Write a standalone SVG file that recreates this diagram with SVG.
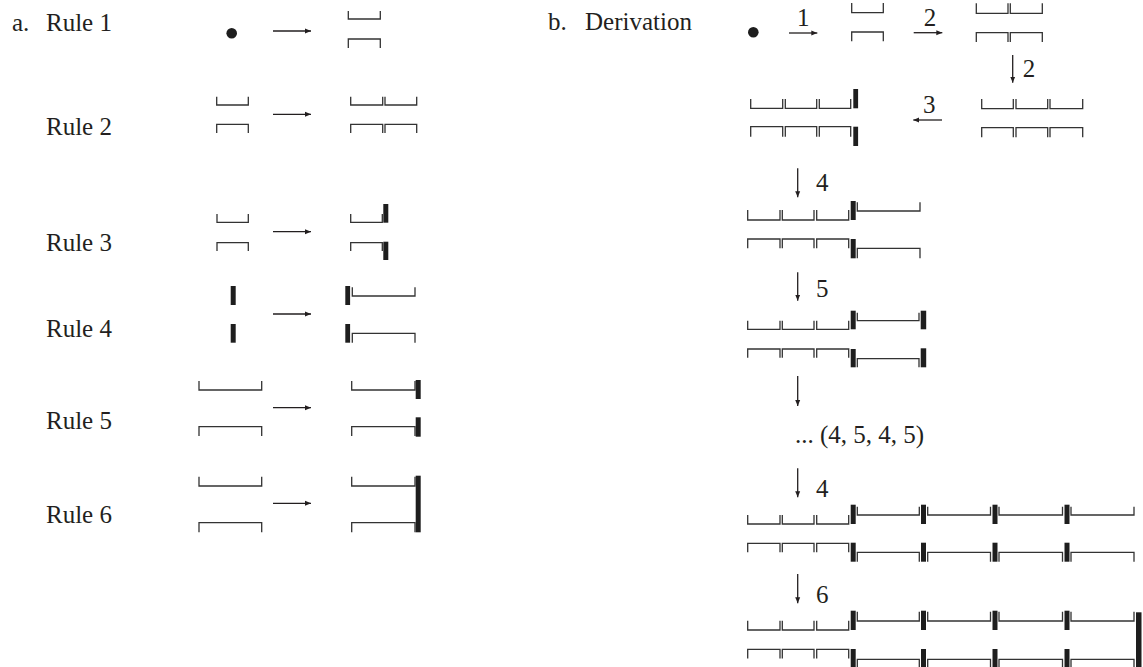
<svg xmlns="http://www.w3.org/2000/svg" width="1143" height="667" viewBox="0 0 1143 667">
<style>
text{font-family:"Liberation Serif","Times New Roman",serif;font-size:25px;fill:#231f20}
.b{fill:none;stroke:#333;stroke-width:1.3}
.bar{fill:#1e1e1e}
.a{stroke:#231f20;stroke-width:1.3;fill:none;marker-end:url(#ah)}
.m{text-anchor:middle}
</style>
<defs>
<marker id="ah" markerUnits="userSpaceOnUse" markerWidth="8" markerHeight="6" refX="6" refY="3" orient="auto">
<path d="M0,0.5 L6,3 L0,5.5 z" fill="#231f20"/>
</marker>
</defs>
<rect width="1143" height="667" fill="#fff"/>

<g id="labels-a">
<text x="12" y="31">a.</text>
<text x="46" y="31">Rule 1</text>
<text x="46" y="135">Rule 2</text>
<text x="46" y="251">Rule 3</text>
<text x="46" y="337">Rule 4</text>
<text x="46" y="429">Rule 5</text>
<text x="46" y="523">Rule 6</text>
</g>

<g id="r1-left"><circle cx="231.7" cy="33.3" r="5.3" fill="#1e1e1e"/></g>
<g id="r1-right">
<path class="b" d="M348.3 11 V19 H380.3 V11"/>
<path class="b" d="M348.3 48 V39 H380.3 V48"/>
</g>

<g id="r2-left">
<path class="b" d="M216.7 96.7 V105 H248.3 V96.7"/>
<path class="b" d="M216.7 133 V124.3 H248.3 V133"/>
</g>
<g id="r2-right">
<path class="b" d="M350.7 96.7 V105 H382.7 V96.7 M385 96.7 V105 H416.7 V96.7"/>
<path class="b" d="M350.7 133 V124.3 H382.7 V133 M385 133 V124.3 H416.7 V133"/>
</g>

<g id="r3-left">
<path class="b" d="M217 214 V222.3 H248.3 V214"/>
<path class="b" d="M217 251 V242.7 H248.3 V251"/>
</g>
<g id="r3-right">
<path class="b" d="M350.7 214 V222.3 H382.3 V214"/>
<rect class="bar" x="383.3" y="204" width="5" height="18.7"/>
<path class="b" d="M350.7 251 V242.7 H382.3 V251"/>
<rect class="bar" x="383.3" y="241.7" width="5" height="18.3"/>
</g>

<g id="r4-left">
<rect class="bar" x="230.7" y="286" width="5" height="19"/>
<rect class="bar" x="230.7" y="324" width="5" height="18.7"/>
</g>
<g id="r4-right">
<rect class="bar" x="345.3" y="286" width="4.8" height="19"/>
<path class="b" d="M352.3 287.3 V296 H415 V287.3"/>
<rect class="bar" x="345.3" y="324" width="4.8" height="18.7"/>
<path class="b" d="M352.3 342.7 V333.3 H415 V342.7"/>
</g>

<g id="r5-left">
<path class="b" d="M199 381 V390 H261.7 V381"/>
<path class="b" d="M199 436 V426.7 H261.7 V436"/>
</g>
<g id="r5-right">
<path class="b" d="M351.7 381 V390 H415 V381"/>
<rect class="bar" x="415.7" y="380" width="5" height="19"/>
<path class="b" d="M351.7 436 V426.7 H415 V436"/>
<rect class="bar" x="415.7" y="417.3" width="5" height="19.4"/>
</g>

<g id="r6-left">
<path class="b" d="M199 476.7 V486 H261.7 V476.7"/>
<path class="b" d="M199 532.3 V522.7 H261.7 V532.3"/>
</g>
<g id="r6-right">
<path class="b" d="M351.7 476.7 V486 H415 V476.7"/>
<path class="b" d="M351.7 532.3 V522.7 H415 V532.3"/>
<rect class="bar" x="415.7" y="475.7" width="5" height="56.6"/>
</g>

<g id="labels-b">
<text x="548" y="30">b.</text>
<text x="585" y="30">Derivation</text>
</g>

<g id="d0"><circle cx="753.3" cy="32.3" r="5.3" fill="#1e1e1e"/></g>
<g id="d1">
<path class="b" d="M851.7 3 V12.7 H883.3 V3"/>
<path class="b" d="M851.7 41.3 V32 H883.3 V41.3"/>
</g>
<g id="d2">
<path class="b" d="M976.3 3.3 V13.3 H1008 V3.3 M1010.3 3.3 V13.3 H1042.3 V3.3"/>
<path class="b" d="M976.3 42 V32.7 H1008 V42 M1010.3 42 V32.7 H1042.3 V42"/>
</g>
<g id="d3">
<path class="b" d="M981.7 99 V108.7 H1013.3 V99 M1016 99 V108.7 H1047.7 V99 M1050 99 V108.7 H1082.7 V99"/>
<path class="b" d="M981.7 137.3 V127.7 H1013.3 V137.3 M1016 137.3 V127.7 H1047.7 V137.3 M1050 137.3 V127.7 H1082.7 V137.3"/>
</g>
<g id="d4">
<path class="b" d="M750.7 99 V108.3 H782.7 V99 M785.3 99 V108.3 H816.7 V99 M819.3 99 V108.3 H850.7 V99"/>
<rect class="bar" x="853.3" y="89" width="4.8" height="19.3"/>
<path class="b" d="M750.7 136.7 V126.7 H782.7 V136.7 M785.3 136.7 V126.7 H816.7 V136.7 M819.3 136.7 V126.7 H850.7 V136.7"/>
<rect class="bar" x="853.3" y="126.7" width="4.8" height="19.3"/>
</g>
<g id="d5">
<path class="b" d="M747.7 210 V220 H780 V210 M782.3 210 V220 H814 V210 M816.7 210 V220 H848.7 V210"/>
<rect class="bar" x="850.7" y="201" width="5" height="19"/>
<path class="b" d="M857.3 202.3 V211 H920 V202.3"/>
<path class="b" d="M747.7 248.3 V239 H780 V248.3 M782.3 248.3 V239 H814 V248.3 M816.7 248.3 V239 H848.7 V248.3"/>
<rect class="bar" x="850.7" y="239" width="5" height="19.3"/>
<path class="b" d="M857.3 258.3 V248.3 H920 V258.3"/>
</g>
<g id="d6">
<path class="b" d="M747.7 320.7 V329.3 H780 V320.7 M782.3 320.7 V329.3 H814 V320.7 M816.7 320.7 V329.3 H848.7 V320.7"/>
<rect class="bar" x="850.7" y="310.7" width="5" height="18.6"/>
<path class="b" d="M857.3 312.7 V320.7 H919 V312.7"/>
<rect class="bar" x="920.7" y="310.7" width="5.5" height="18.6"/>
<path class="b" d="M747.7 357.7 V349 H780 V357.7 M782.3 357.7 V349 H814 V357.7 M816.7 357.7 V349 H848.7 V357.7"/>
<rect class="bar" x="850.7" y="349" width="5" height="18.3"/>
<path class="b" d="M857.3 367.3 V358.7 H919 V367.3"/>
<rect class="bar" x="920.7" y="348.3" width="5.5" height="19"/>
</g>
<g id="d7">
<text x="795" y="442.7">... (4, 5, 4, 5)</text>
</g>
<g id="d8">
<path class="b" d="M747.7 515 V524 H780 V515 M782.3 515 V524 H814 V515 M816.7 515 V524 H848.7 V515"/>
<path class="b" d="M857.3 506.7 V515 H919.3 V506.7 M927.7 506.7 V515 H990.5 V506.7 M999 506.7 V515 H1062.5 V506.7 M1071 506.7 V515 H1134 V506.7"/>
<rect class="bar" x="850.7" y="504.7" width="5" height="19.3"/>
<rect class="bar" x="921" y="504.7" width="5" height="19.3"/>
<rect class="bar" x="992.5" y="504.7" width="5" height="19.3"/>
<rect class="bar" x="1064.5" y="504.7" width="5" height="19.3"/>
<path class="b" d="M747.7 552.3 V543.3 H780 V552.3 M782.3 552.3 V543.3 H814 V552.3 M816.7 552.3 V543.3 H848.7 V552.3"/>
<path class="b" d="M857.3 561.7 V552.3 H919.3 V561.7 M927.7 561.7 V552.3 H990.5 V561.7 M999 561.7 V552.3 H1062.5 V561.7 M1071 561.7 V552.3 H1134 V561.7"/>
<rect class="bar" x="850.7" y="542.7" width="5" height="19"/>
<rect class="bar" x="921" y="542.7" width="5" height="19"/>
<rect class="bar" x="992.5" y="542.7" width="5" height="19"/>
<rect class="bar" x="1064.5" y="542.7" width="5" height="19"/>
</g>
<g id="d9">
<path class="b" d="M747.7 620.7 V630 H780 V620.7 M782.3 620.7 V630 H814 V620.7 M816.7 620.7 V630 H848.7 V620.7"/>
<path class="b" d="M857.3 611.7 V621 H919.3 V611.7 M927.7 611.7 V621 H990.5 V611.7 M999 611.7 V621 H1062.5 V611.7 M1071 611.7 V621 H1134 V611.7"/>
<rect class="bar" x="850.7" y="610.7" width="5" height="19.3"/>
<rect class="bar" x="921" y="610.7" width="5" height="19.3"/>
<rect class="bar" x="992.5" y="610.7" width="5" height="19.3"/>
<rect class="bar" x="1064.5" y="610.7" width="5" height="19.3"/>
<path class="b" d="M747.7 658.5 V649.3 H780 V658.5 M782.3 658.5 V649.3 H814 V658.5 M816.7 658.5 V649.3 H848.7 V658.5"/>
<path class="b" d="M857.3 669 V659.3 H919.3 V669 M927.7 669 V659.3 H990.5 V669 M999 669 V659.3 H1062.5 V669 M1071 669 V659.3 H1134 V669"/>
<rect class="bar" x="850.7" y="649" width="5" height="20"/>
<rect class="bar" x="921" y="649" width="5" height="20"/>
<rect class="bar" x="992.5" y="649" width="5" height="20"/>
<rect class="bar" x="1064.5" y="649" width="5" height="20"/>
<rect class="bar" x="1136" y="612.3" width="5.5" height="58"/>
</g>

<g id="connectors">
<line class="a" x1="273" y1="31" x2="311" y2="31"/>
<line class="a" x1="273" y1="114.3" x2="311" y2="114.3"/>
<line class="a" x1="273" y1="231.7" x2="311" y2="231.7"/>
<line class="a" x1="273" y1="314" x2="311" y2="314"/>
<line class="a" x1="273" y1="407.7" x2="311" y2="407.7"/>
<line class="a" x1="273" y1="503.3" x2="311" y2="503.3"/>

<line class="a" x1="789" y1="33" x2="817.3" y2="33"/>
<text class="m" x="803.3" y="26">1</text>
<line class="a" x1="913.7" y1="32.7" x2="942.3" y2="32.7"/>
<text class="m" x="930" y="26">2</text>
<line class="a" x1="1012.7" y1="55" x2="1012.7" y2="82.7"/>
<text x="1022.7" y="76.7">2</text>
<line class="a" x1="942" y1="120" x2="913.3" y2="120"/>
<text class="m" x="929.3" y="113.3">3</text>
<line class="a" x1="797.7" y1="168.3" x2="797.7" y2="197.3"/>
<text x="816" y="191">4</text>
<line class="a" x1="797.7" y1="272.3" x2="797.7" y2="300.7"/>
<text x="816" y="296.7">5</text>
<line class="a" x1="797.7" y1="376" x2="797.7" y2="406"/>
<line class="a" x1="797.7" y1="468.3" x2="797.7" y2="497.3"/>
<text x="816" y="496.7">4</text>
<line class="a" x1="797.7" y1="574" x2="797.7" y2="603.3"/>
<text x="816" y="602.7">6</text>
</g>
</svg>
